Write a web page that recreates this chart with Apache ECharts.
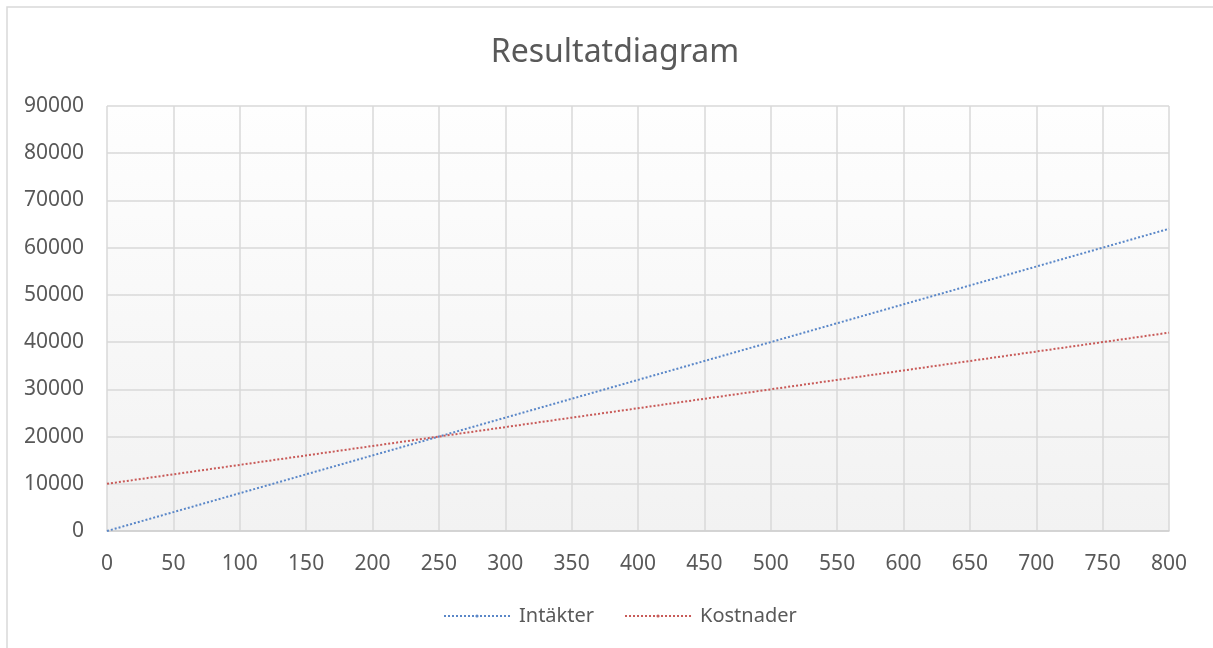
<!DOCTYPE html>
<html>
<head>
<meta charset="utf-8">
<title>Resultatdiagram</title>
<script src="https://cdn.jsdelivr.net/npm/echarts@6/dist/echarts.min.js"></script>
<style>
  html, body { margin: 0; padding: 0; background: #fff; }
  #chart { width: 1213px; height: 648px; }
</style>
</head>
<body>
<div id="chart"></div>
<script>
  // antal (x) och belopp for varje serie
  var antal = [0, 50, 100, 150, 200, 250, 300, 350, 400, 450, 500, 550, 600, 650, 700, 750, 800];
  var intakter = [0, 4000, 8000, 12000, 16000, 20000, 24000, 28000, 32000, 36000, 40000, 44000, 48000, 52000, 56000, 60000, 64000];
  var kostnader = [10000, 12000, 14000, 16000, 18000, 20000, 22000, 24000, 26000, 28000, 30000, 32000, 34000, 36000, 38000, 40000, 42000];
  var seriesNames = ['Intäkter', 'Kostnader'];

  var textGrey = '#595959';
  var gridGrey = '#d9d9d9';
  var font = '"Noto Sans", "Open Sans", sans-serif';

  function pairs(xs, ys) {
    return xs.map(function (x, i) { return [x, ys[i]]; });
  }

  var chart = echarts.init(document.getElementById('chart'));
  chart.setOption({
    animation: false,
    textStyle: { fontFamily: font },
    // yttre ram runt diagrammet
    graphic: [{
      type: 'rect',
      shape: { x: 7, y: 7, width: 1300, height: 700 },
      style: { fill: 'none', stroke: gridGrey, lineWidth: 1.5 },
      silent: true
    }],
    title: {
      text: 'Resultatdiagram',
      left: 610,
      textAlign: 'center',
      top: 32,
      textStyle: { color: textGrey, fontSize: 32, fontWeight: 'normal', fontFamily: font }
    },
    legend: {
      data: seriesNames,
      left: 438,
      top: 601,
      itemWidth: 66,
      itemHeight: 4,
      itemGap: 30,
      textStyle: { color: textGrey, fontSize: 20, fontFamily: font, padding: [0, 0, 0, 4] }
    },
    grid: {
      left: 107,
      right: 44,
      top: 106,
      bottom: 117,
      show: true,
      borderWidth: 0,
      backgroundColor: new echarts.graphic.LinearGradient(0, 0, 0, 1, [
        { offset: 0, color: '#fefefe' },
        { offset: 1, color: '#f2f2f2' }
      ])
    },
    xAxis: {
      type: 'value',
      min: 0,
      max: 800,
      interval: 50,
      axisLine: { show: true, lineStyle: { color: '#d0d0d0', width: 1.5 } },
      axisTick: { show: false },
      axisLabel: { color: textGrey, fontSize: 21, margin: 23, fontFamily: font },
      splitLine: { show: true, lineStyle: { color: gridGrey, width: 1.5 } }
    },
    yAxis: {
      type: 'value',
      min: 0,
      max: 90000,
      interval: 10000,
      axisLine: { show: false },
      axisTick: { show: false },
      axisLabel: {
        color: textGrey, fontSize: 21, margin: 23, fontFamily: font,
        formatter: function (v) { return String(v); }
      },
      splitLine: { show: true, lineStyle: { color: gridGrey, width: 1.5 } }
    },
    series: [
      {
        name: seriesNames[0],
        type: 'line',
        data: pairs(antal, intakter),
        symbol: 'none',
        color: '#5a87c8',
        lineStyle: { color: '#5a87c8', width: 2, type: [2, 2] }
      },
      {
        name: seriesNames[1],
        type: 'line',
        data: pairs(antal, kostnader),
        symbol: 'none',
        color: '#c85a58',
        lineStyle: { color: '#c85a58', width: 2, type: [2, 2] }
      }
    ]
  });
</script>
</body>
</html>
